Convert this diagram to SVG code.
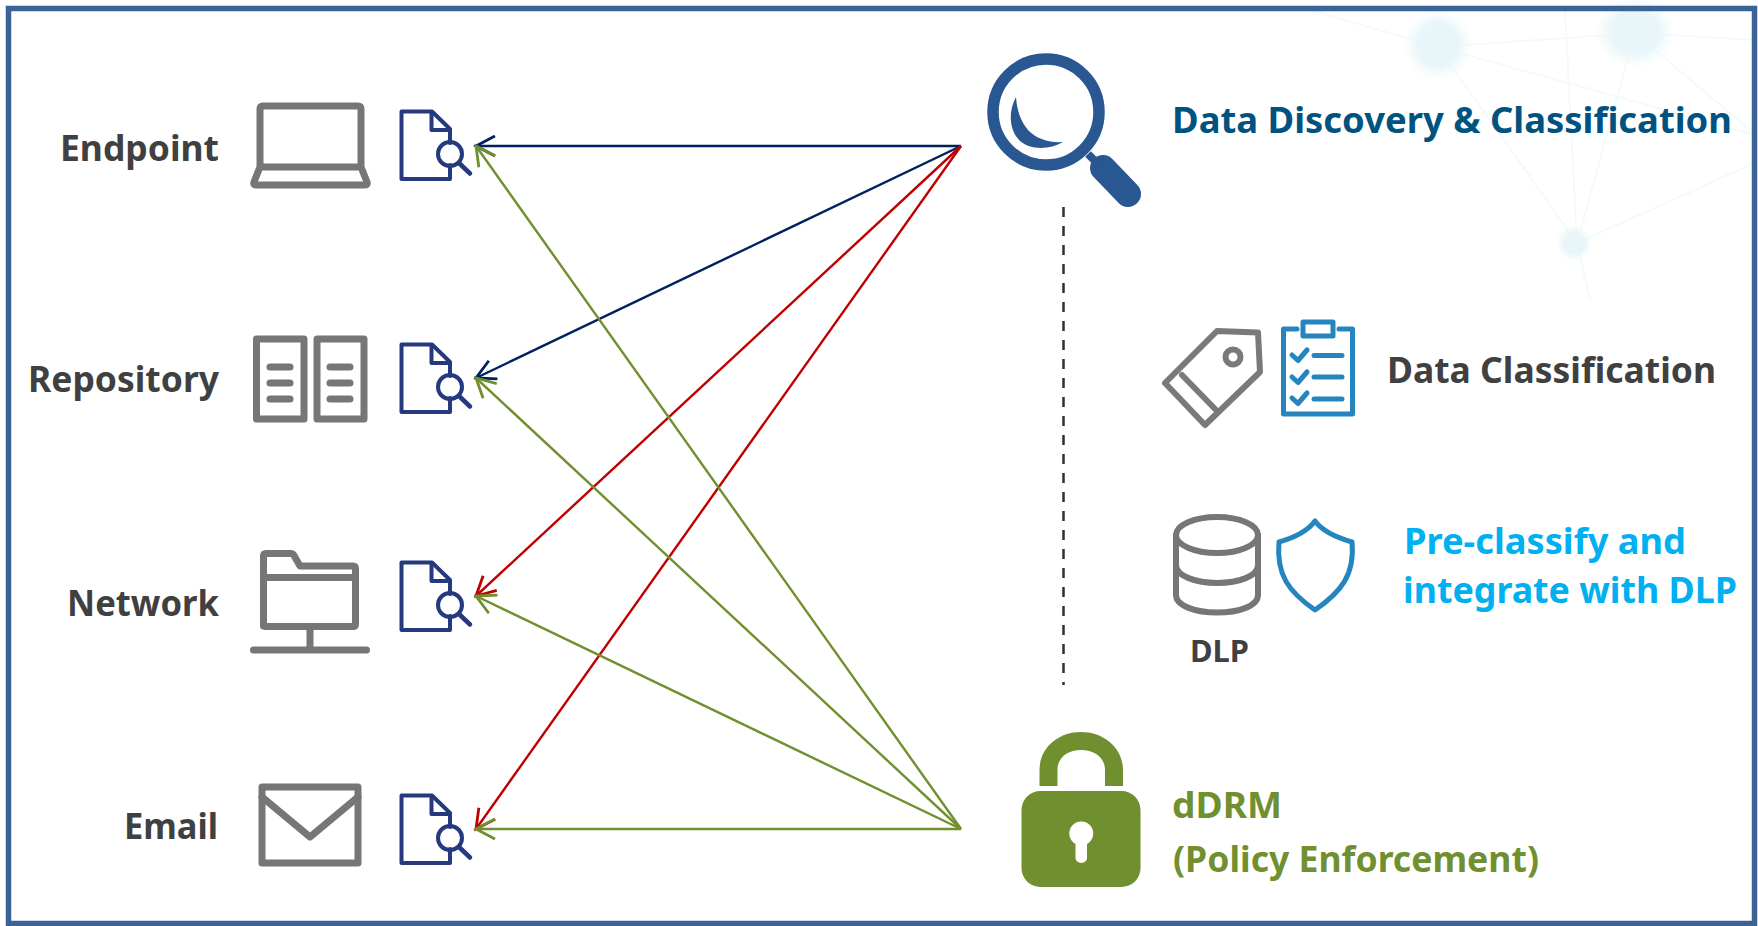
<svg xmlns="http://www.w3.org/2000/svg" width="1758" height="926" viewBox="0 0 1758 926">
<style>
text{font-family:"Noto Sans","Open Sans","Liberation Sans",sans-serif;font-weight:700;font-size:36px}
.dark{fill:#404040}
.g{fill:none;stroke:#767676;stroke-width:7;stroke-linejoin:round;stroke-linecap:round}
.b{fill:none;stroke:#2585bf;stroke-width:5;stroke-linejoin:round;stroke-linecap:round}
.wl{fill:none;stroke:#f4fafc;stroke-width:2}
.c{fill:none;stroke-width:2.4}
</style>
<defs>
<g id="doc" fill="none" stroke="#25397f" stroke-width="4" stroke-linejoin="round" stroke-linecap="round">
<path d="M450,143V129L432,111.500H401.500V179H450V165"/>
<path d="M431.500,112V130H450"/>
<circle cx="450" cy="154" r="12"/>
<path d="M459,163L470,173.500" stroke-width="4.500"/>
</g>
<marker id="an" markerUnits="userSpaceOnUse" markerWidth="26" markerHeight="26" refX="22" refY="13" orient="auto"><path d="M3,3L22,13L3,23" fill="none" stroke="#002060" stroke-width="2.800"/></marker>
<marker id="ar" markerUnits="userSpaceOnUse" markerWidth="26" markerHeight="26" refX="22" refY="13" orient="auto"><path d="M3,3L22,13L3,23" fill="none" stroke="#c00000" stroke-width="2.800"/></marker>
<marker id="ag" markerUnits="userSpaceOnUse" markerWidth="26" markerHeight="26" refX="22" refY="13" orient="auto"><path d="M3,3L22,13L3,23" fill="none" stroke="#70902f" stroke-width="2.800"/></marker>
<radialGradient id="glow"><stop offset="0" stop-color="#e8f6fa"/><stop offset=".6" stop-color="#e8f6fa"/><stop offset="1" stop-color="#eef8fb" stop-opacity="0"/></radialGradient>
</defs>
<rect width="1758" height="926" fill="#fff"/>
<g id="watermark">
<path class="wl" d="M1310,10L1438,47L1635,33L1755,40M1438,47L1577,243L1635,33M1635,33L1750,130M1438,47L1755,135M1577,243L1750,165M1565,10L1577,243L1590,300"/>
<ellipse cx="1438" cy="45" rx="34" ry="36" fill="url(#glow)"/>
<ellipse cx="1635" cy="32" rx="40" ry="36" fill="url(#glow)"/>
<ellipse cx="1574" cy="243" rx="18" ry="18" fill="url(#glow)"/>
</g>
<g id="connectors">
<path class="c" stroke="#002060" marker-end="url(#an)" d="M961,146L476,146"/>
<path class="c" stroke="#002060" marker-end="url(#an)" d="M961,146L476,378"/>
<path class="c" stroke="#c00000" marker-end="url(#ar)" d="M961,146L476,596"/>
<path class="c" stroke="#c00000" marker-end="url(#ar)" d="M961,146L476,829"/>
<path class="c" stroke="#70902f" marker-end="url(#ag)" d="M961,829L476,146"/>
<path class="c" stroke="#70902f" marker-end="url(#ag)" d="M961,829L476,378"/>
<path class="c" stroke="#70902f" marker-end="url(#ag)" d="M961,829L476,596"/>
<path class="c" stroke="#70902f" marker-end="url(#ag)" d="M961,829L476,829"/>
<path fill="none" stroke="#303030" stroke-width="2.500" stroke-dasharray="10 9" d="M1063.500,207V685"/>
</g>
<g id="endpoint">
<text class="dark" x="219" y="161" text-anchor="end" textLength="159" lengthAdjust="spacingAndGlyphs">Endpoint</text>
<path class="g" d="M260,167V109Q260,106 263,106H358Q361,106 361,109V167ZM260,167L254,182Q253,185 256,185H365Q368,185 367,182L361,167"/>
<use href="#doc"/>
</g>
<g id="repository">
<text class="dark" x="219" y="392" text-anchor="end" textLength="191" lengthAdjust="spacingAndGlyphs">Repository</text>
<rect class="g" x="256.500" y="339" width="47.500" height="80"/>
<rect class="g" x="317" y="339" width="47" height="80"/>
<path class="g" d="M270,367H290M270,383H290M270,399H290M330,367H350M330,383H350M330,399H350"/>
<use href="#doc" y="233"/>
</g>
<g id="network">
<text class="dark" x="219" y="616" text-anchor="end" textLength="152" lengthAdjust="spacingAndGlyphs">Network</text>
<path class="g" d="M263.500,626V556Q263.500,553.500 266,553.500H291Q293,553.500 294,555.500L300,566H353Q355.500,566 355.500,568.500V624Q355.500,626.500 353,626.500H266Q263.500,626.500 263.500,624ZM263.500,577.500H355.500M310,627V650M253.500,650H366.500"/>
<use href="#doc" y="451"/>
</g>
<g id="email">
<text class="dark" x="218" y="839" text-anchor="end" textLength="94" lengthAdjust="spacingAndGlyphs">Email</text>
<rect class="g" x="262" y="787" width="96" height="76"/>
<path class="g" d="M262,797L310,837L358,797"/>
<use href="#doc" y="684"/>
</g>
<g id="discovery">
<circle cx="1046" cy="112" r="53" fill="none" stroke="#285792" stroke-width="11.500"/>
<path fill="#285792" d="M1016,97C1008,112 1009,130 1020,141C1030,150 1050,150 1063,142C1050,143 1036,139 1028,130C1020,120 1017,110 1016,97Z"/>
<path stroke="#285792" stroke-width="26" stroke-linecap="round" fill="none" d="M1103,168L1128,194"/>
<path stroke="#285792" stroke-width="8" fill="none" d="M1088,154L1100,166"/>
<text x="1172" y="133" fill="#005380" textLength="560" lengthAdjust="spacingAndGlyphs">Data Discovery &amp; Classification</text>
</g>
<g id="classification">
<path class="g" style="stroke-width:6;stroke:#7a7a7a" d="M1217,331L1258,332.500L1260,372L1205,425L1165,383ZM1182,375L1217,411"/>
<circle cx="1233" cy="357" r="7.500" fill="none" stroke="#7a7a7a" stroke-width="6"/>
<path class="b" d="M1297,329H1283.500V414H1352.500V329H1339M1303,322H1333V336H1303Z"/>
<path class="b" d="M1292,355L1298,360.500L1307,350M1292,377L1298,382.500L1307,372M1292,398L1298,403.500L1307,393M1314,355.500H1342M1314,377H1342M1314,399H1342"/>
<text class="dark" x="1387" y="383" textLength="329" lengthAdjust="spacingAndGlyphs">Data Classification</text>
</g>
<g id="dlp">
<ellipse class="g" style="stroke-width:6" cx="1217" cy="535" rx="41" ry="18"/>
<path class="g" style="stroke-width:6" d="M1176,535V595C1176,606 1196,612.500 1217,612.500C1239,612.500 1258,606 1258,595V535M1176,565C1176,576 1196,583 1217,583C1239,583 1258,576 1258,565"/>
<path class="b" d="M1315,521C1307,532 1293,538 1279,542C1276,575 1289,592 1315,610C1341,592 1355,575 1352,542C1338,538 1323,532 1315,521Z"/>
<text class="dark" x="1190" y="662" style="font-size:31px" textLength="59" lengthAdjust="spacingAndGlyphs">DLP</text>
<text x="1404" y="554" fill="#00b0f0" textLength="282" lengthAdjust="spacingAndGlyphs">Pre-classify and</text>
<text x="1403" y="603" fill="#00b0f0" textLength="334" lengthAdjust="spacingAndGlyphs">integrate with DLP</text>
</g>
<g id="ddrm">
<path fill="#70902f" d="M1039.500,786V770C1039.500,748 1058,732 1081,732C1104,732 1123,748 1123,770V786H1105V770C1105,758 1095,750 1081,750C1067,750 1057.500,758 1057.500,770V786Z"/>
<rect x="1021.500" y="791" width="119" height="96" rx="19" fill="#70902f"/>
<path fill="#fff" d="M1075.500,844A12,12 0 1 1 1087,844V858A5.700,5 0 0 1 1075.500,858Z"/>
<text x="1172" y="818" fill="#70902f" textLength="110" lengthAdjust="spacingAndGlyphs">dDRM</text>
<text x="1173" y="872" fill="#70902f" textLength="366" lengthAdjust="spacingAndGlyphs">(Policy Enforcement)</text>
</g>
<rect id="frame" x="8.500" y="8.500" width="1746" height="915" fill="none" stroke="#3b6496" stroke-width="5.500"/>
</svg>
